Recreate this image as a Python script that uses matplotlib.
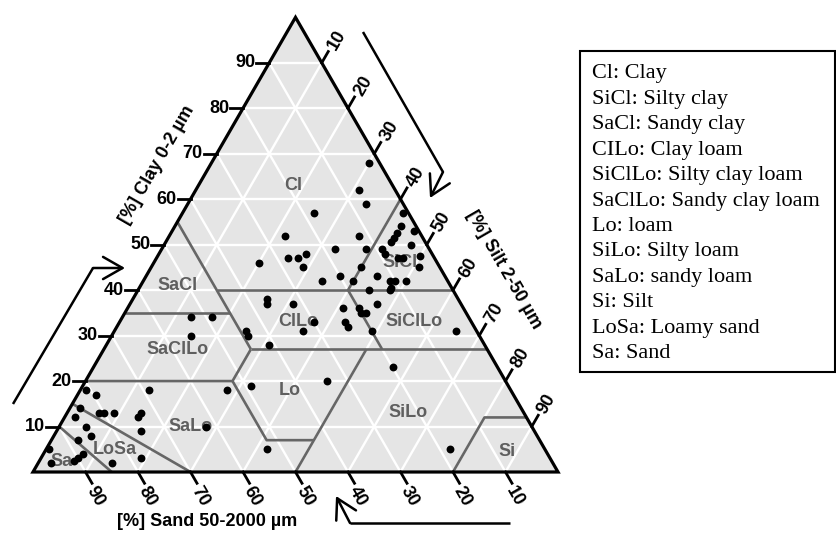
import matplotlib
matplotlib.use('Agg')
import matplotlib.pyplot as plt
from matplotlib.patches import Polygon, Rectangle
import numpy as np

plt.rcParams['font.family'] = ['Liberation Sans', 'DejaVu Sans']

# 시료 점: clay %, silt %
clay = [68, 62, 59, 57, 57, 52, 52, 53, 54, 52.5, 51.5, 50.5, 50, 49, 49, 49, 48, 47, 47,
        47.5, 45, 46, 47, 47, 48, 45, 45, 42, 43, 42, 43, 42, 42, 42, 40, 40, 40.5,
        38, 37, 37, 37, 36, 36, 35, 35, 33, 33, 32, 31, 31, 31, 31, 30, 28,
        34, 34, 30, 23, 20, 19, 18, 5, 5,
        18, 18, 17, 14, 13, 13, 13, 13, 12, 12, 10, 9, 10, 8, 7, 5, 4, 3, 2.5, 2, 2, 3]
silt = [30, 31, 34, 25, 42, 22, 36, 46, 43, 43, 43, 43, 47, 33, 39, 42, 43, 46, 47,
        50, 51, 20, 25, 27, 28, 29, 40, 34, 37, 40, 44, 47, 48, 50, 44, 48, 48,
        25.5, 26, 31, 47, 41, 44, 45, 46, 37, 43, 44, 49, 65, 36, 25, 26, 31,
        13, 17, 15, 57, 46, 32, 28, 42, 77,
        13, 1, 3.5, 2, 6, 7, 9, 14, 14, 2, 5, 16, 28, 7, 5, 0.5, 7.5, 7, 6.5, 2.5, 14, 19]

# 토성 구분 이름과 위치 (clay, silt)
class_names = ['Cl', 'SiCl', 'SaCl', 'ClLo', 'SiClLo', 'SaClLo', 'Lo', 'SiLo', 'SaLo', 'LoSa', 'Sa', 'Si']
class_clay = [63, 46, 41, 33, 33, 27, 18, 13, 10, 5, 2.4, 4.6]
class_silt = [18, 47, 7, 34, 56, 14, 40, 65, 25, 13, 4.3, 88]

# 경계선 (clay, silt) 구간
bounds = [
    [(55, 0), (27, 28)],
    [(40, 15), (40, 60)],
    [(60, 40), (40, 40), (27, 53)],
    [(35, 0), (35, 20)],
    [(27, 28), (27, 73)],
    [(20, 0), (20, 28), (27, 28)],
    [(20, 28), (7, 41), (7, 50)],
    [(0, 50), (27, 50)],
    [(0, 80), (12, 80), (12, 88)],
    [(15, 0), (0, 30)],
    [(10, 0), (0, 15)],
]

ticks = [10, 20, 30, 40, 50, 60, 70, 80, 90]

legend_lines = ['Cl: Clay', 'SiCl: Silty clay', 'SaCl: Sandy clay', 'CILo: Clay loam',
                'SiClLo: Silty clay loam', 'SaClLo: Sandy clay loam', 'Lo: loam',
                'SiLo: Silty loam', 'SaLo: sandy loam', 'Si: Silt', 'LoSa: Loamy sand',
                'Sa: Sand']

H = np.sqrt(3) / 2
S = 525.0  # pixel per unit


def tern(c, s):
    c = np.asarray(c, float) / 100
    s = np.asarray(s, float) / 100
    return s + c / 2, c * H


def px(x, y):
    return (x - 33) / S, (472 - y) / S


fig = plt.figure(figsize=(8.37, 5.33), dpi=100)
ax = fig.add_axes([0, 0, 1, 1])
ax.set_xlim(-33 / S, 804 / S)
ax.set_ylim(-61 / S, 472 / S)
ax.axis('off')

# 배경 삼각형
tri = [(0, 0), (1, 0), (0.5, H)]
ax.add_patch(Polygon(tri, closed=True, fc='#e5e5e5', ec='none', zorder=1))

# 흰색 격자
for t in ticks:
    x, y = tern([t, t], [0, 100 - t])
    ax.plot(x, y, color='white', lw=1.7, zorder=2)
    x, y = tern([0, 100 - t], [t, t])
    ax.plot(x, y, color='white', lw=1.7, zorder=2)
    x, y = tern([0, 100 - t], [100 - t, 0])
    ax.plot(x, y, color='white', lw=1.7, zorder=2)

# 토성 경계
for seg in bounds:
    c, s = zip(*seg)
    x, y = tern(c, s)
    ax.plot(x, y, color='#666666', lw=1.9, zorder=3, solid_capstyle='butt')

for name, c, s in zip(class_names, class_clay, class_silt):
    x, y = tern(c, s)
    ax.text(x, y, name, color='#5f5f5f', fontsize=13, fontweight='bold',
            ha='center', va='center', zorder=4)

x, y = tern(clay, silt)
ax.scatter(x, y, s=32, color='black', zorder=5, linewidths=0)

ax.add_patch(Polygon(tri, closed=True, fc='none', ec='black', lw=2.3, zorder=6,
                     joinstyle='miter'))

# 눈금
L = 13 / S
for t in ticks:
    # clay (left)
    bx, by = tern(t, 0)
    ax.plot([bx, bx - L], [by, by], color='k', lw=2, zorder=6)
    ax.text(bx - L - 1 / S, by, str(t), fontsize=13, fontweight='bold',
            ha='right', va='center')
    # sand (bottom)
    bx, by = tern(0, 100 - t)
    d = np.array([0.5, -H])
    ex, ey = bx + L * d[0], by + L * d[1]
    ax.plot([bx, ex], [by, ey], color='k', lw=2, zorder=6)
    ax.text(ex - 2 / S, ey - 4 / S, str(t), fontsize=13, fontweight='bold',
            rotation=-60, rotation_mode='anchor', ha='left', va='center')
    # silt (right)
    bx, by = tern(100 - t, t)
    d = np.array([0.5, H])
    ex, ey = bx + L * d[0], by + L * d[1]
    ax.plot([bx, ex], [by, ey], color='k', lw=2, zorder=6)
    ax.text(ex + 3 / S * d[0] + 2 / S, ey + 3 / S * d[1], str(t), fontsize=13,
            fontweight='bold', rotation=60, rotation_mode='anchor', ha='left', va='center')

# 축 제목
ax.text(*px(157, 165), '[%] Clay 0-2 \u00b5m', fontsize=13, fontweight='bold',
        rotation=60, ha='center', va='center')
ax.text(*px(504, 270), '[%] Silt 2-50 \u00b5m', fontsize=13, fontweight='bold',
        rotation=-60, ha='center', va='center')
ax.text(*px(207, 521), '[%] Sand 50-2000 \u00b5m', fontsize=13, fontweight='bold',
        ha='center', va='center')

# 화살표
arrows = [
    [(13, 404), (93, 268), (125, 268)],
    [(363, 32), (443, 172), (430, 198)],
    [(510, 523), (350, 523), (336, 496)],
]
for a in arrows:
    p0, p1, p2 = [px(*p) for p in a]
    ax.plot([p0[0], p1[0]], [p0[1], p1[1]], color='k', lw=1.8, solid_capstyle='butt')
    ax.annotate('', xy=p2, xytext=p1,
                arrowprops=dict(arrowstyle='->, head_length=0.7, head_width=0.4',
                                lw=1.8, color='k', shrinkA=0, shrinkB=0,
                                mutation_scale=20))

# 범례 박스
x0, y0 = px(580, 372)
x1, y1 = px(835, 51)
ax.add_patch(Rectangle((x0, y0), x1 - x0, y1 - y0, fc='white', ec='black', lw=1.5))
for i, line in enumerate(legend_lines):
    ax.text(*px(592, 78.3 + i * 25.45), line, fontsize=16, family='Liberation Serif',
            ha='left', va='baseline')

fig.savefig('out.png', dpi=100)
